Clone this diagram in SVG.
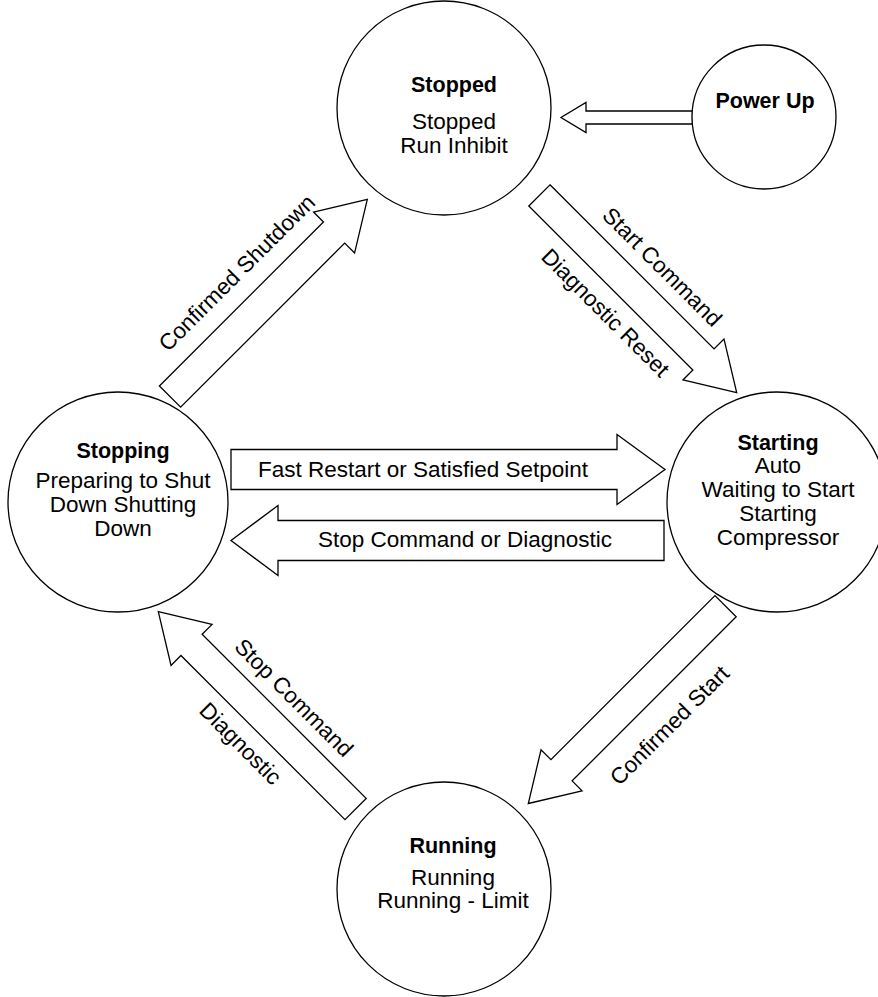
<svg xmlns="http://www.w3.org/2000/svg" width="878" height="997" viewBox="0 0 878 997">
<style>
  .node { fill: #fff; stroke: #000; stroke-width: 1.3; }
  .arrow { fill: #fff; stroke: #000; stroke-width: 1.3; stroke-linejoin: miter; }
  text { font-family: "Liberation Sans", Arial, Helvetica, sans-serif; fill: #000; text-anchor: middle; }
  .t { font-size: 22.5px; }
  .b { font-size: 21.5px; font-weight: bold; }
</style>
<defs>
  <polygon id="diag" points="-279,-15 -47,-15 -47,-29 0,0 -47,29 -47,15 -279,15"/>
</defs>
<rect width="878" height="997" fill="#fff"/>

<g id="connectors">
  <polygon class="arrow" points="692.5,111 586,111 586,102.5 561,117.5 586,132.5 586,124 692.5,124"/>
  <use href="#diag" class="arrow" transform="translate(367.3,199.3) rotate(-45)"/>
  <use href="#diag" class="arrow" transform="translate(736.7,392.7) rotate(45)"/>
  <use href="#diag" class="arrow" transform="translate(528.3,803.5) rotate(135)"/>
  <use href="#diag" class="arrow" transform="translate(158.3,611.7) rotate(-135)"/>
  <polygon class="arrow" points="231,449.5 617,449.5 617,434.5 665,469.5 617,504.5 617,489.5 231,489.5"/>
  <polygon class="arrow" points="664,520.5 278,520.5 278,505.5 231,540.5 278,575.5 278,560.5 664,560.5"/>
  <text class="t" x="423" y="477">Fast Restart or Satisfied Setpoint</text>
  <text class="t" x="465" y="547">Stop Command or Diagnostic</text>
  <text class="t" transform="translate(242.3,278.2) rotate(-45)">Confirmed Shutdown</text>
  <text class="t" transform="translate(656.8,272.4) rotate(45)">Start Command</text>
  <text class="t" transform="translate(600.1,318.2) rotate(45)">Diagnostic Reset</text>
  <text class="t" transform="translate(674.9,730.7) rotate(-45)">Confirmed Start</text>
  <text class="t" transform="translate(288.5,703.2) rotate(45)">Stop Command</text>
  <text class="t" transform="translate(235.1,749) rotate(45)">Diagnostic</text>
</g>

<g id="stopped">
  <circle class="node" cx="444" cy="108" r="107"/>
  <text class="b" x="454" y="92">Stopped</text>
  <text class="t" x="454" y="129">Stopped</text>
  <text class="t" x="454" y="153">Run Inhibit</text>
</g>

<g id="power-up">
  <circle class="node" cx="764" cy="117" r="72"/>
  <text class="b" x="765" y="108">Power Up</text>
</g>

<g id="stopping">
  <circle class="node" cx="118" cy="502" r="110"/>
  <text class="b" x="123" y="458">Stopping</text>
  <text class="t" x="123" y="488">Preparing to Shut</text>
  <text class="t" x="123" y="512">Down Shutting</text>
  <text class="t" x="123" y="536">Down</text>
</g>

<g id="starting">
  <circle class="node" cx="777" cy="502" r="110"/>
  <text class="b" x="778" y="450">Starting</text>
  <text class="t" x="778" y="473">Auto</text>
  <text class="t" x="778" y="497">Waiting to Start</text>
  <text class="t" x="778" y="521">Starting</text>
  <text class="t" x="778" y="545">Compressor</text>
</g>

<g id="running">
  <circle class="node" cx="444" cy="889" r="107"/>
  <text class="b" x="453" y="853">Running</text>
  <text class="t" x="453" y="885">Running</text>
  <text class="t" x="453" y="908">Running - Limit</text>
</g>
</svg>
